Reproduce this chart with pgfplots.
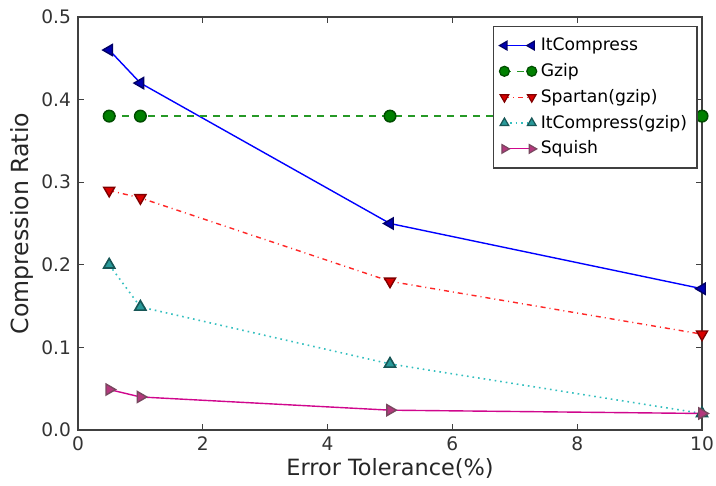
\documentclass[border=0pt]{standalone}
\usepackage{pgfplots}
\pgfplotsset{compat=1.18}
\usepackage{fontspec}
\setmainfont{DejaVu Sans}
\definecolor{mgreen}{rgb}{0,0.5,0}
\definecolor{lgreen}{rgb}{0.15,0.6,0.15}
\definecolor{mcyan}{rgb}{0.2,0.75,0.75}
\begin{document}
\begin{tikzpicture}
\begin{axis}[
  scale only axis, width=312pt, height=206.5pt,
  xmin=0, xmax=10, ymin=0, ymax=0.5,
  xtick={0,2,4,6,8,10}, ytick={0,0.1,0.2,0.3,0.4,0.5},
  yticklabel style={/pgf/number format/.cd,fixed,fixed zerofill,precision=1},
  /pgf/number format/assume math mode=true,
  tick label style={font=\fontsize{9.3}{11}\selectfont, color=black!80},
  xticklabel style={inner xsep=0pt},
  xlabel style={font=\fontsize{11.2}{13}\selectfont, color=black!85, yshift=3pt},
  ylabel style={font=\fontsize{11.8}{14}\selectfont, color=black!85, yshift=-3pt},
  xlabel={Error Tolerance(\%)}, ylabel={Compression Ratio},
  tick align=inside, major tick length=3pt,
  axis line style={black!75, line width=0.8pt},
  every tick/.style={black!75},
  legend style={at={(0.993,0.978)}, anchor=north east, font=\fontsize{8.6}{10.3}\selectfont,
    draw=black!75, line width=0.6pt, row sep=0.9pt, inner xsep=3pt, inner ysep=3.5pt},
  legend cell align=left,
  legend image code/.code={\draw[#1, mark size=2.5pt] plot coordinates {(0cm,0cm) (0.48cm,0cm)};},
  legend image post style={line width=0.6pt, xshift=0.1cm},
]
\addplot[color=blue, line width=0.7pt, mark=triangle*, mark size=3.2pt,
  mark options={solid, rotate=90, fill=blue!70!black, draw=blue!40!black}]
  coordinates {(0.5,0.46) (1,0.42) (5,0.25) (10,0.171)};
\addlegendentry{ItCompress}
\addplot[color=lgreen, line width=0.75pt, dash pattern=on 3.5pt off 3pt, mark=*, mark size=2.9pt,
  mark options={solid, fill=mgreen, draw=mgreen!60!black}]
  coordinates {(0.5,0.38) (1,0.38) (5,0.38) (10,0.38)};
\addlegendentry{Gzip}
\addplot[color=red!85, line width=0.7pt, dash pattern=on 2.5pt off 2pt on 0.5pt off 2pt, mark=triangle*, mark size=3.2pt,
  mark options={solid, rotate=180, fill=red!85!black, draw=red!50!black}]
  coordinates {(0.5,0.29) (1,0.281) (5,0.18) (10,0.116)};
\addlegendentry{Spartan(gzip)}
\addplot[color=mcyan, line width=0.8pt, dotted, mark=triangle*, mark size=3.2pt,
  mark options={solid, fill=mcyan!80!black, draw=mcyan!45!black}]
  coordinates {(0.5,0.2) (1,0.149) (5,0.08) (10,0.02)};
\addlegendentry{ItCompress(gzip)}
\addplot[color=magenta!85!blue, line width=0.7pt, mark=triangle*, mark size=3.2pt,
  mark options={solid, rotate=-90, fill=magenta!70!black, draw=magenta!40!black}]
  coordinates {(0.5,0.049) (1,0.04) (5,0.024) (10,0.02)};
\addlegendentry{Squish}
\end{axis}
\path (current axis.south west) ++(-39pt,-28pt) rectangle ([shift={(7pt,8.5pt)}]current axis.north east);
\end{tikzpicture}
\end{document}
